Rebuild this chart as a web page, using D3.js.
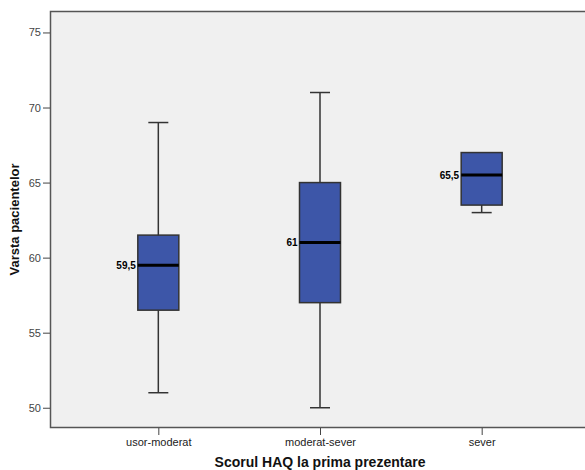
<!DOCTYPE html>
<html>
<head>
<meta charset="utf-8">
<script src="https://cdn.jsdelivr.net/npm/d3@7"></script>
<style>
  body { margin: 0; background: #fff; }
  svg { display: block; font-family: Arial, "Liberation Sans", sans-serif; }
</style>
</head>
<body>
<svg id="chart" width="585" height="470"></svg>
<script>
// Data
const categories = ['usor-moderat', 'moderat-sever', 'sever'];
const whiskerLow = [51, 50, 63];
const q1 = [56.5, 57, 63.5];
const medians = [59.5, 61, 65.5];
const q3 = [61.5, 65, 67];
const whiskerHigh = [69, 71, 67];
const medianLabels = ['59,5', '61', '65,5'];
const yTicks = [50, 55, 60, 65, 70, 75];

const boxes = categories.map((c, i) => ({
    cat: c, lo: whiskerLow[i], q1: q1[i], med: medians[i], q3: q3[i], hi: whiskerHigh[i], label: medianLabels[i]
}));

// Layout (plot area runs a little past the right edge of the window)
const margin = { top: 11, right: -5, bottom: 42, left: 50 };
const svg = d3.select('#chart');
const width = 585 - margin.left - margin.right,
    height = 470 - margin.top - margin.bottom;

const x = d3.scalePoint().domain(categories).range([0, width]).padding(0.67);
const y = d3.scaleLinear().domain([48.65, 76.43]).range([height, 0]);

const g = svg.append('g').attr('transform', 'translate(' + margin.left + ',' + margin.top + ')');

// Plot background
g.append('rect')
    .attr('width', width).attr('height', height)
    .attr('fill', '#f0f0f0');

// Frame (top, left, bottom)
g.append('path')
    .attr('d', 'M' + width + ',0.5H0.5V' + (height - 0.5) + 'H' + width)
    .attr('fill', 'none').attr('stroke', '#555').attr('stroke-width', 1.5);

// Axes
const yAxis = d3.axisLeft(y).tickValues(yTicks).tickSize(7).tickPadding(2);
const xAxis = d3.axisBottom(x).tickSize(7).tickPadding(3);

const yG = g.append('g').call(yAxis);
yG.select('.domain').remove();
yG.selectAll('line').attr('stroke', '#444');
yG.selectAll('text').attr('fill', '#444').style('font-size', '11px');

const xG = g.append('g').attr('transform', 'translate(0,' + height + ')').call(xAxis);
xG.select('.domain').remove();
xG.selectAll('line').attr('stroke', '#444');
xG.selectAll('text').attr('fill', '#222').style('font-size', '11px');

// Axis titles
svg.append('text')
    .attr('x', margin.left + x(categories[1])).attr('y', 467)
    .attr('text-anchor', 'middle')
    .style('font-size', '14px').style('font-weight', 'bold').attr('fill', '#111')
    .text('Scorul HAQ la prima prezentare');

svg.append('text')
    .attr('transform', 'translate(19,' + (margin.top + height / 2) + ') rotate(-90)')
    .attr('text-anchor', 'middle')
    .style('font-size', '13px').style('font-weight', 'bold').attr('fill', '#111')
    .text('Varsta pacientelor');

// Boxes
const boxW = 41, capW = 20;
const items = g.selectAll('g.box').data(boxes).enter().append('g').attr('class', 'box')
    .attr('transform', d => 'translate(' + x(d.cat) + ',0)');

items.append('line')
    .attr('y1', d => y(d.lo)).attr('y2', d => y(d.hi))
    .attr('stroke', '#333').attr('stroke-width', 1.5);

items.append('line')
    .attr('x1', -capW / 2).attr('x2', capW / 2)
    .attr('y1', d => y(d.lo)).attr('y2', d => y(d.lo))
    .attr('stroke', '#333').attr('stroke-width', 1.5);

items.filter(d => d.hi > d.q3).append('line')
    .attr('x1', -capW / 2).attr('x2', capW / 2)
    .attr('y1', d => y(d.hi)).attr('y2', d => y(d.hi))
    .attr('stroke', '#333').attr('stroke-width', 1.5);

items.append('rect')
    .attr('x', -boxW / 2).attr('width', boxW)
    .attr('y', d => y(d.q3)).attr('height', d => y(d.q1) - y(d.q3))
    .attr('fill', '#3d56a8').attr('stroke', '#333').attr('stroke-width', 1.5);

items.append('line')
    .attr('x1', -boxW / 2).attr('x2', boxW / 2)
    .attr('y1', d => y(d.med)).attr('y2', d => y(d.med))
    .attr('stroke', '#000').attr('stroke-width', 3);

items.append('text')
    .attr('x', -boxW / 2 - 2).attr('y', d => y(d.med)).attr('dy', '0.35em')
    .attr('text-anchor', 'end')
    .style('font-size', '10px').style('font-weight', 'bold').attr('fill', '#000')
    .text(d => d.label);
</script>
</body>
</html>
